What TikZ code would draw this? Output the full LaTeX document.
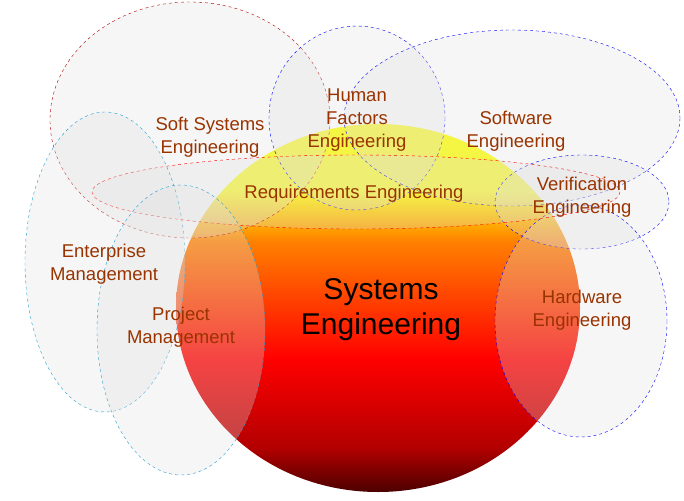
\documentclass[tikz,border=0pt]{standalone}
\usepackage{fontspec}
\setmainfont{Liberation Sans}
\begin{document}
\begin{tikzpicture}[x=1pt,y=-1pt,
  area/.style={dashed,fill=black!12,fill opacity=0.3,draw opacity=1},
  lbl/.style={text=lab,font=\fontsize{18.5}{23}\selectfont,align=center}]
\useasboundingbox (0,0) rectangle (684,500);
\definecolor{lab}{HTML}{993300}
\pgfdeclareverticalshading{se}{100bp}{color(0bp)=(red!30!black); color(25bp)=(red!30!black); color(31bp)=(red!70!black); color(43bp)=(red); color(51bp)=(red!50!orange); color(59bp)=(orange); color(66bp)=(yellow); color(100bp)=(yellow)}
\path[shading=se] (378,308) ellipse [x radius=202,y radius=184];
\path[area,draw=red!70!black] (190,120) ellipse [x radius=140,y radius=118];
\path[area,draw=blue] (357,118) ellipse [x radius=88,y radius=92];
\path[area,draw=blue] (512,118) ellipse [x radius=168,y radius=88];
\path[area,draw=blue] (582,202) ellipse [x radius=87,y radius=47];
\path[area,draw=blue] (581,321) ellipse [x radius=86,y radius=116];
\path[area,draw=red] (356,192) ellipse [x radius=264,y radius=37];
\path[area,draw=cyan!70!teal] (105,262) ellipse [x radius=80,y radius=150];
\path[area,draw=cyan!70!teal] (181,330) ellipse [x radius=84,y radius=145];
\node[lbl] (soft) at (210,137) {Soft Systems\\Engineering};
\node[lbl] (human) at (357,120) {Human\\Factors\\Engineering};
\node[lbl] (sw) at (516,131) {Software\\Engineering};
\node[lbl] (ver) at (582,197) {Verification\\Engineering};
\node[lbl] (req) at (354,194) {Requirements Engineering};
\node[lbl] (ent) at (104,264) {Enterprise\\Management};
\node[lbl] (proj) at (181,327) {Project\\Management};
\node[lbl] (hw) at (582,310) {Hardware\\Engineering};
\node[align=center,font=\fontsize{30}{35}\selectfont] (se) at (381,310) {Systems\\Engineering};
\end{tikzpicture}
\end{document}
